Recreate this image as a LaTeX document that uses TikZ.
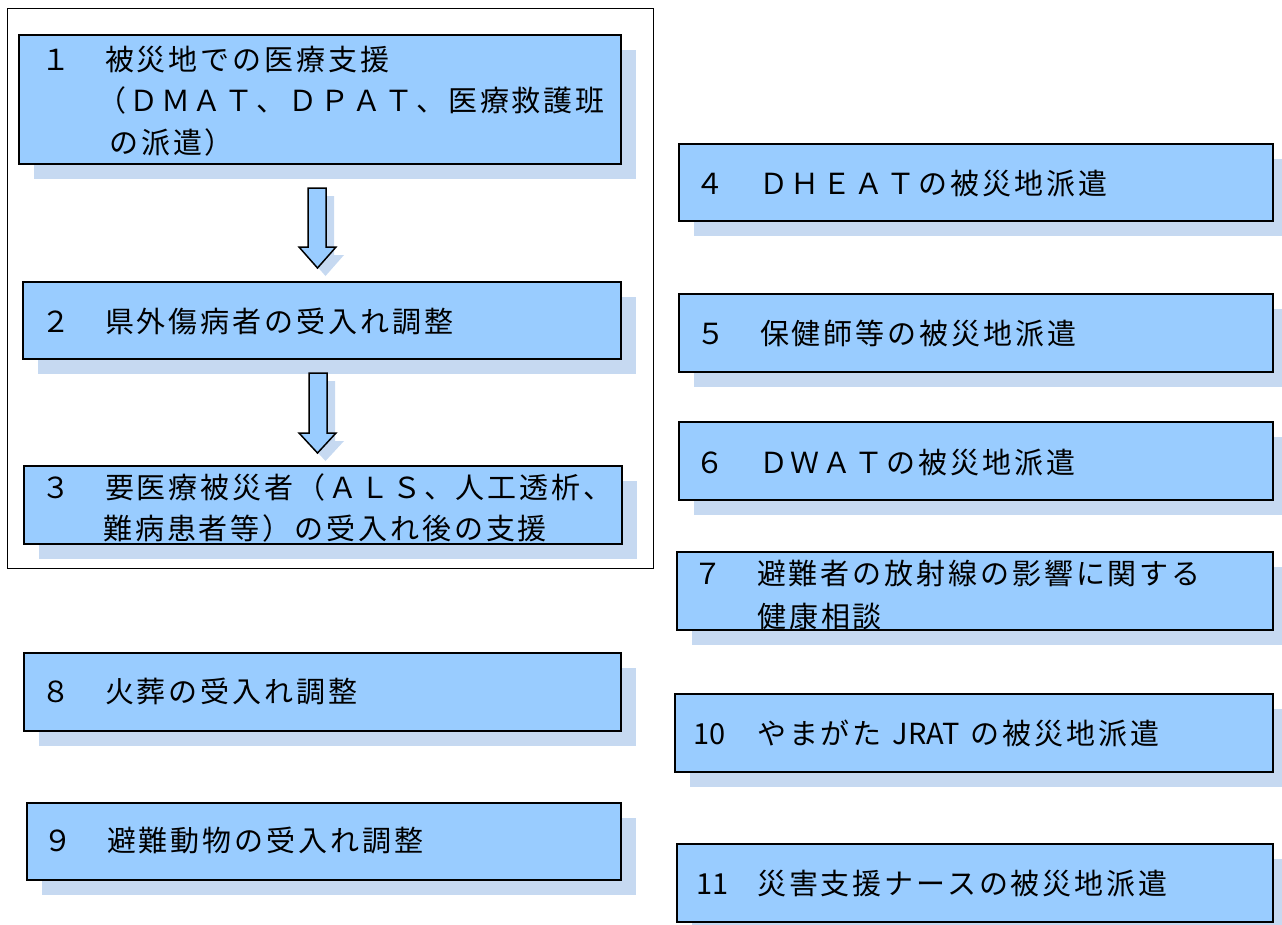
\documentclass[tikz,border=0pt]{standalone}
\usepackage{fontspec}
\setmainfont{Noto Sans CJK JP}[LetterSpace=10]
\newfontfamily\plainfont{Noto Sans CJK JP}
\usetikzlibrary{shadows,calc}
\definecolor{boxblue}{HTML}{99CCFF}
\definecolor{shadowc}{HTML}{C6D9F1}
\tikzset{
  box/.style={draw=black, line width=1.6pt, fill=boxblue, anchor=north west, inner sep=0pt,
    drop shadow={shadow xshift=15pt, shadow yshift=-15pt, fill=shadowc, opacity=1, draw=none}},
  frame/.style={draw=black, line width=1.3pt, anchor=north west, inner sep=0pt},
  txt/.style={anchor=base west, inner sep=0pt, font=\fontsize{29}{38}\selectfont},
  blockarrow/.style={draw=black, line width=1.5pt, fill=boxblue, line join=miter,
    drop shadow={shadow xshift=8pt, shadow yshift=-8pt, fill=shadowc, opacity=1, draw=none}}
}
\newcommand{\numbox}[1]{\makebox[64pt][l]{\plainfont #1}}
\begin{document}
\begin{tikzpicture}[x=1pt,y=-1pt]
\useasboundingbox (0,0) rectangle (1282,924);
% outer frame
\node[frame, minimum width=646pt, minimum height=560pt] (frm) at (7,8) {};
% boxes
\node[box, minimum width=602pt, minimum height=129pt] (b1) at (18,34) {};
\node[box, minimum width=598pt, minimum height=77pt] (b2) at (22,281) {};
\node[box, minimum width=598pt, minimum height=78pt] (b3) at (23,465) {};
\node[box, minimum width=597pt, minimum height=78pt] (b8) at (23,652) {};
\node[box, minimum width=594pt, minimum height=77pt] (b9) at (26,802) {};
\node[box, minimum width=594pt, minimum height=77pt] (b4) at (678,143) {};
\node[box, minimum width=594pt, minimum height=78pt] (b5) at (678,293) {};
\node[box, minimum width=594pt, minimum height=78pt] (b6) at (678,421) {};
\node[box, minimum width=596pt, minimum height=78pt] (b7) at (676,551) {};
\node[box, minimum width=598pt, minimum height=78pt] (b10) at (674,693) {};
\node[box, minimum width=596pt, minimum height=78pt] (b11) at (676,843) {};
% block arrows
\coordinate (a1s) at (317,188);
\coordinate (a1e) at (317.5,268);
\coordinate (a2s) at (318,373);
\coordinate (a2e) at (317.5,453);
\draw[blockarrow] ($(a1s)+(-9,0)$) -- ($(a1s)+(9,0)$) -- ($(a1e)+(8.5,-21)$) -- ($(a1e)+(18.5,-21)$)
  -- (a1e) -- ($(a1e)+(-18.5,-21)$) -- ($(a1e)+(-9.5,-21)$) -- cycle;
\draw[blockarrow] ($(a2s)+(-9,0)$) -- ($(a2s)+(9,0)$) -- ($(a2e)+(9.5,-20)$) -- ($(a2e)+(18.5,-20)$)
  -- (a2e) -- ($(a2e)+(-18.5,-20)$) -- ($(a2e)+(-8.5,-20)$) -- cycle;
% texts
\node[txt] (t1a) at (41,70) {１　被災地での医療支援};
\node[txt] (t1b) at (97,111) {（ＤＭＡＴ、ＤＰＡＴ、医療救護班};
\node[txt] (t1c) at (109,153) {の派遣）};
\node[txt] (t2) at (41,332) {２　県外傷病者の受入れ調整};
\node[txt] (t3a) at (41,498) {３　要医療被災者（ＡＬＳ、人工透析、};
\node[txt] (t3b) at (103,539) {難病患者等）の受入れ後の支援};
\node[txt] (t8) at (41,702) {８　火葬の受入れ調整};
\node[txt] (t9) at (43,851) {９　避難動物の受入れ調整};
\node[txt] (t4) at (695,194) {４　ＤＨＥＡＴの被災地派遣};
\node[txt] (t5) at (696,344) {５　保健師等の被災地派遣};
\node[txt] (t6) at (695,473) {６　ＤＷＡＴの被災地派遣};
\node[txt] (t7a) at (693,584) {７　避難者の放射線の影響に関する};
\node[txt] (t7b) at (757,627) {健康相談};
\node[txt] (t10) at (693,744) {\numbox{10}やまがた{\plainfont\hspace{11pt}JRAT\hspace{11pt}}の被災地派遣};
\node[txt] (t11) at (693,894) {\numbox{\hspace{3pt}11}災害支援ナースの被災地派遣};
\end{tikzpicture}
\end{document}
